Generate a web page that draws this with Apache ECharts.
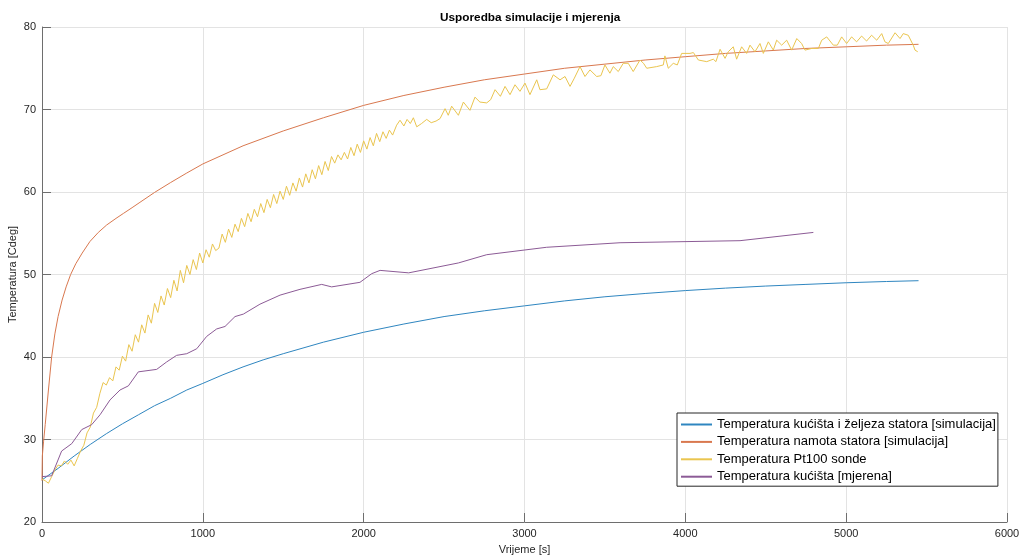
<!DOCTYPE html>
<html>
<head>
<meta charset="utf-8">
<script src="https://cdn.jsdelivr.net/npm/echarts@6/dist/echarts.min.js"></script>
<style>
html,body{margin:0;padding:0;background:#fff;}
#chart{width:1020px;height:555px;}
</style>
</head>
<body>
<div id="chart"></div>
<script>
// ---- Data ----
var chartTitle = 'Usporedba simulacije i mjerenja';
var xName = 'Vrijeme [s]';
var yName = 'Temperatura [Cdeg]';
var seriesNames = [
  'Temperatura kućišta i željeza statora [simulacija]',
  'Temperatura namota statora [simulacija]',
  'Temperatura Pt100 sonde',
  'Temperatura kućišta [mjerena]'
];

// Simulated casing + stator iron temperature
var casingSimTime = [0,100,200,300,400,500,600,700,800,900,1000,1125,1250,1375,1500,1750,2000,2250,2500,2750,3000,3250,3500,3750,4000,4250,4500,4750,5000,5250,5450];
var casingSimTemp = [25.1,26.5,28.0,29.4,30.7,31.9,33.0,34.1,35.0,36.0,36.8,37.85,38.8,39.65,40.4,41.8,43.0,44.0,44.9,45.6,46.2,46.8,47.3,47.7,48.05,48.35,48.6,48.8,49.0,49.15,49.25];

// Simulated stator winding temperature
var windingSimTime = [0,2,10,20,40,60,80,100,125,150,178,210,250,298,350,402,460,506,560,609,700,800,900,1000,1250,1500,1750,2000,2250,2500,2750,3000,3250,3500,3750,4000,4250,4500,4750,5000,5250,5450];
var windingSimTemp = [25.0,28.0,29.8,31.8,36.0,40.0,42.8,44.9,46.9,48.5,50.0,51.3,52.6,54.0,55.1,56.0,56.8,57.4,58.1,58.75,59.95,61.15,62.3,63.4,65.6,67.4,69.0,70.5,71.7,72.7,73.6,74.3,75.0,75.5,76.0,76.4,76.8,77.1,77.4,77.6,77.8,77.9];

// Pt100 probe (measured, noisy)
var pt100Time = [
  0,20,40,60,80,100,120,140,160,180,200,220,240,260,280,300,320,340,360,380,400,420,440,460,480,500,
  520,540,560,580,600,620,640,660,680,700,720,740,760,780,800,820,840,860,880,900,920,940,960,980,
  1000,1020,1040,1060,1080,1100,1120,1140,1160,1180,1200,1220,1240,1260,1280,1300,1320,1340,1360,1380,
  1400,1420,1440,1460,1480,1500,1520,1540,1560,1580,1600,1620,1640,1660,1680,1700,1720,1740,1760,1780,
  1800,1820,1840,1860,1880,1900,1920,1940,1960,1980,2000,2020,2040,2060,2080,2100,2120,2140,2160,2180,
  2205,2226,2250,2270,2290,2309,2330,2360,2392,2420,2450,2475,2506,2526,2547,2589,2620,2661,2692,2723,
  2765,2790,2817,2850,2879,2910,2941,2972,3003,3034,3076,3096,3138,3179,3221,3252,3283,3310,3345,3376,
  3407,3449,3475,3500,3531,3552,3583,3614,3645,3676,3718,3740,3760,3822,3863,3873,3894,3925,3950,3977,
  4029,4050,4081,4133,4174,4190,4216,4247,4267,4298,4319,4350,4381,4402,4433,4464,4485,4516,4547,4568,
  4599,4630,4661,4693,4723,4744,4786,4827,4848,4879,4920,4945,4972,5003,5034,5065,5096,5127,5158,5190,
  5221,5241,5262,5304,5335,5355,5386,5417,5428,5445
];
var pt100Temp = [
  25.2,25.0,24.7,25.5,26.3,26.9,26.8,27.4,27.0,27.5,26.8,27.7,28.6,29.3,30.8,31.5,33.2,33.9,35.6,36.9,36.6,37.5,37.1,38.8,38.4,40.1,
  39.5,41.5,40.7,42.7,41.8,43.9,42.9,45.1,44.1,46.5,45.4,47.4,46.3,48.3,47.2,49.3,48.0,50.5,49.0,51.1,50.0,51.8,50.6,52.6,
  51.4,53.0,52.1,53.7,52.9,53.2,54.9,53.9,55.5,54.5,56.1,55.2,56.8,55.8,57.4,56.4,57.9,57.0,58.6,57.5,
  59.1,58.1,59.7,58.6,60.1,59.1,60.7,59.6,61.1,60.1,61.7,60.6,62.2,61.1,62.7,61.6,63.2,62.1,63.7,62.6,
  64.3,63.5,64.5,63.9,64.8,64.0,65.4,64.4,65.8,64.8,66.2,65.2,66.6,65.6,67.1,66.1,67.3,66.5,67.5,66.9,
  68.1,68.7,68.0,68.8,68.3,69.0,67.9,68.3,68.8,68.4,68.6,68.9,70.1,69.3,70.4,69.3,70.9,69.9,71.5,70.9,
  70.8,71.2,72.4,71.6,72.8,71.8,73.0,72.2,73.2,71.8,73.6,72.4,72.5,74.2,73.6,74.0,72.8,73.8,75.2,74.0,
  74.8,74.0,74.1,75.4,74.4,75.2,74.6,75.6,75.6,74.6,76.0,75.6,75.0,75.2,75.4,76.5,75.0,75.6,75.4,76.8,
  76.8,76.9,76.0,75.8,76.1,75.8,77.3,76.2,77.0,77.6,76.1,77.6,76.8,77.8,77.0,78.0,76.8,78.2,77.2,78.4,
  77.8,78.4,77.2,78.6,78.0,77.2,77.4,77.4,78.4,78.8,77.8,77.8,78.8,78.0,78.8,78.2,78.9,78.3,79.0,78.4,
  79.2,78.2,78.0,79.3,78.6,79.2,79.0,77.8,77.2,77.0
];

// Measured casing temperature
var casingMeasTime = [0,60,122,185,247,309,361,423,485,537,599,713,775,837,900,962,1024,1086,1138,1200,1252,1355,1480,1604,1739,1801,1977,2050,2102,2280,2589,2765,3138,3594,4340,4796];
var casingMeasTemp = [25.5,25.6,28.6,29.5,31.2,31.8,33.0,34.8,36.0,36.5,38.2,38.5,39.4,40.2,40.4,41.0,42.5,43.4,43.7,44.9,45.2,46.4,47.5,48.2,48.8,48.5,49.05,50.1,50.5,50.2,51.4,52.4,53.3,53.85,54.1,55.1];

var seriesColors = ['#2f86c0', '#d9784f', '#eac54f', '#8c5b96'];

function pairs(t, v) { return t.map(function (x, i) { return [x, v[i]]; }); }

var font = "'Liberation Sans', Arial, Helvetica, sans-serif";
var chart = echarts.init(document.getElementById('chart'), null, { renderer: 'canvas' });

function lineSeries(name, data, color) {
  return {
    name: name, type: 'line', data: data,
    symbol: 'none', showSymbol: false, smooth: false,
    lineStyle: { width: 1, color: color },
    itemStyle: { color: color },
    emphasis: { disabled: true },
    animation: false
  };
}

chart.setOption({
  animation: false,
  backgroundColor: '#ffffff',
  title: {
    text: chartTitle, left: 435, top: 7,
    textStyle: { fontFamily: font, fontSize: 11.8, fontWeight: 'bold', color: '#000' }
  },
  grid: { left: 42, right: 13, top: 27, bottom: 33, containLabel: false, outerBoundsMode: 'none' },
  legend: {
    orient: 'vertical', left: 677, top: 413,
    itemWidth: 31, itemHeight: 14, itemGap: 4.4,
    padding: [5, 2, 3, 3],
    borderColor: '#262626', borderWidth: 1, backgroundColor: '#ffffff',
    itemStyle: { opacity: 0 },
    textStyle: { fontFamily: font, fontSize: 13, color: '#000' },
    data: seriesNames
  },
  xAxis: {
    type: 'value', min: 0, max: 6000, interval: 1000,
    name: xName, nameLocation: 'middle', nameGap: 22,
    nameTextStyle: { fontFamily: font, fontSize: 11, color: '#262626' },
    axisLine: { show: true, onZero: false, lineStyle: { color: '#6e6e6e', width: 1 } },
    axisTick: { show: true, inside: true, length: 9, lineStyle: { color: '#6e6e6e' } },
    axisLabel: { fontFamily: font, fontSize: 11, color: '#262626', margin: 6, showMinLabel: true, showMaxLabel: true,
      formatter: function (v) { return String(v); } },
    splitLine: { show: true, lineStyle: { color: '#e3e3e3', width: 1 } }
  },
  yAxis: {
    type: 'value', min: 20, max: 80, interval: 10,
    name: yName, nameLocation: 'middle', nameGap: 24, nameRotate: 90, nameMoveOverlap: false,
    nameTextStyle: { fontFamily: font, fontSize: 11, color: '#262626' },
    axisLine: { show: true, onZero: false, lineStyle: { color: '#6e6e6e', width: 1 } },
    axisTick: { show: true, inside: true, length: 9, lineStyle: { color: '#6e6e6e' } },
    axisLabel: { fontFamily: font, fontSize: 11, color: '#262626', margin: 6,
      formatter: function (v) { return String(v); } },
    splitLine: { show: true, lineStyle: { color: '#e3e3e3', width: 1 } }
  },
  series: [
    lineSeries(seriesNames[0], pairs(casingSimTime, casingSimTemp), seriesColors[0]),
    lineSeries(seriesNames[1], pairs(windingSimTime, windingSimTemp), seriesColors[1]),
    lineSeries(seriesNames[2], pairs(pt100Time, pt100Temp), seriesColors[2]),
    lineSeries(seriesNames[3], pairs(casingMeasTime, casingMeasTemp), seriesColors[3])
  ]
});
</script>
</body>
</html>
